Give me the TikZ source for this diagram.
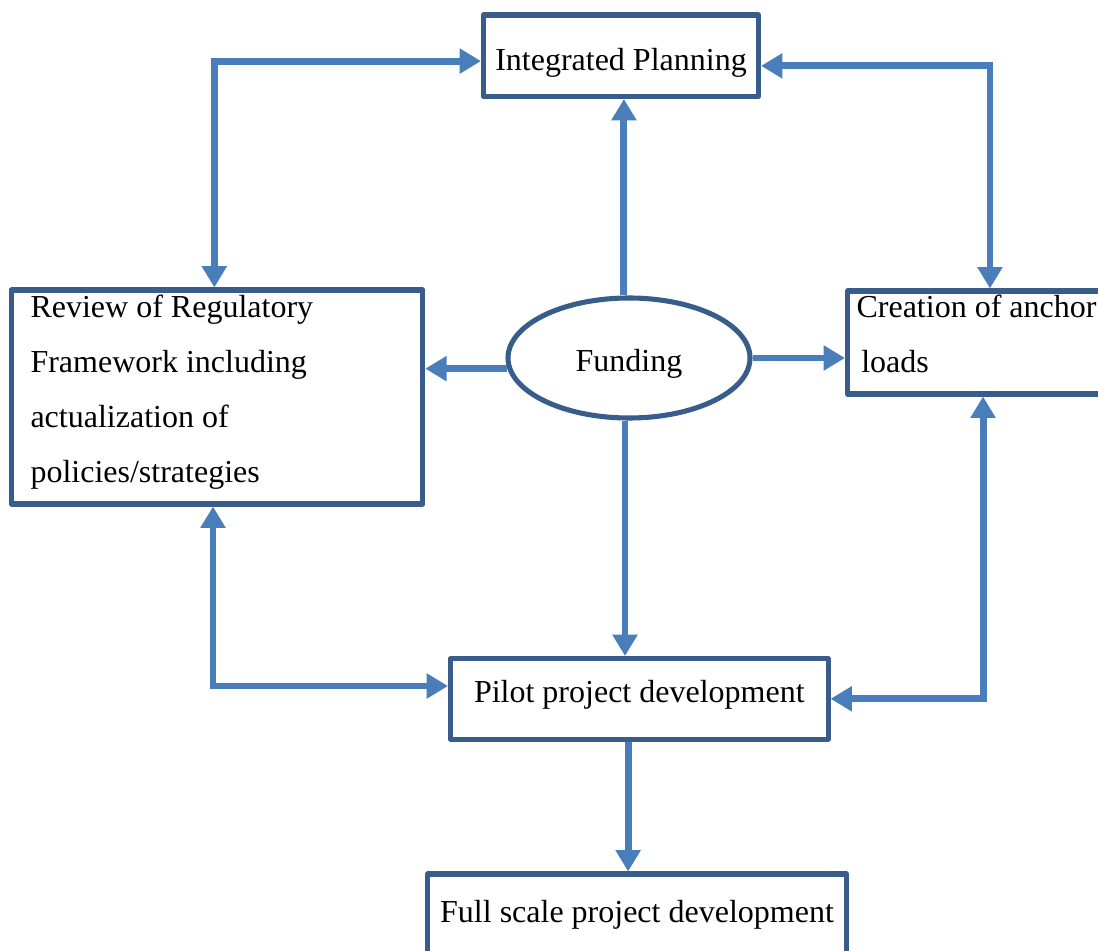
\documentclass[tikz,border=0pt]{standalone}
\usepackage{fontspec}
\setmainfont{Liberation Serif}
\usepackage{tikz}
\usetikzlibrary{arrows.meta}
\usetikzlibrary{shapes.geometric}
\definecolor{cbox}{rgb}{0.220, 0.365, 0.541}
\definecolor{carrow}{rgb}{0.290, 0.494, 0.733}
\newcommand{\px}{0.375pt}

\begin{document}
\begin{tikzpicture}[x=\px, y=-\px,
  box/.style={draw=cbox, line width=1.9pt, line join=round, fill=white, inner sep=0pt},
  txt/.style={font=\fontsize{12}{20.6}\selectfont},
  flow/.style={draw=carrow, line width=2.6pt, -{Triangle[length=8pt, width=9pt]}},
  twoway/.style={flow, {Triangle[length=8pt, width=9pt]}-{Triangle[length=8pt, width=9pt]}}]
  \useasboundingbox (0, 0) rectangle (1098, 951);

  \node (plan) at (621, 55.75) [box, txt, minimum width=275*\px, minimum height=81.5*\px,
    text height=11.2pt, text depth=0pt] {Integrated Planning};

  \node (review) at (217, 397) [box, minimum width=411.5*\px, minimum height=214*\px] {};
  \node (reviewtext) at (30, 294.8) [anchor=north west, txt, align=left, inner sep=0pt]
    {Review of Regulatory\\Framework including\\actualization of\\policies/strategies};

  \node (loads) at (978.75, 342.5) [box, minimum width=262.5*\px, minimum height=103*\px] {};
  \node (loadstext) at (856, 294.1) [anchor=north west, txt, align=left, inner sep=0pt]
    {Creation of anchor\\\hspace*{1.8pt}loads};

  \node (fund) at (629, 358) [ellipse, draw=cbox, line width=1.9pt, fill=white, txt, inner sep=0pt,
    minimum width=242*\px, minimum height=120*\px, text height=10.3pt, text depth=0pt] {Funding};

  \node (pilot) at (639.3, 698.8) [box, txt, minimum width=377.5*\px, minimum height=80.5*\px,
    text height=8pt, text depth=5.4pt] {Pilot project development};

  \node (full) at (637, 914.5) [box, txt, minimum width=419*\px, minimum height=81*\px]
    {Full scale project development};

  \draw [twoway] ([xshift=-1pt]review.north) |- ([yshift=-2pt]plan.west);
  \draw [twoway] ([yshift=-3.8pt]plan.east) -| ([xshift=4.2pt]loads.north);
  \draw [flow] ([xshift=-1.9pt]fund.north) -- ([xshift=1.1pt]plan.south);
  \draw [flow] (fund.185) -- (fund.185 -| review.east);
  \draw [flow] (fund.east) -- (fund.east -| loads.west);
  \draw [flow] ([xshift=-1.5pt]fund.south) -- ([xshift=-1.5pt]fund.south |- pilot.north);
  \draw [twoway] ([yshift=4.8pt]pilot.west) -| ([xshift=-1.5pt]review.south);
  \draw [twoway] (pilot.east) -| ([xshift=1.6pt]loads.south);
  \draw [flow] ([xshift=-4.2pt]pilot.south) -- ([xshift=-4.2pt]pilot.south |- full.north);
\end{tikzpicture}
\end{document}
